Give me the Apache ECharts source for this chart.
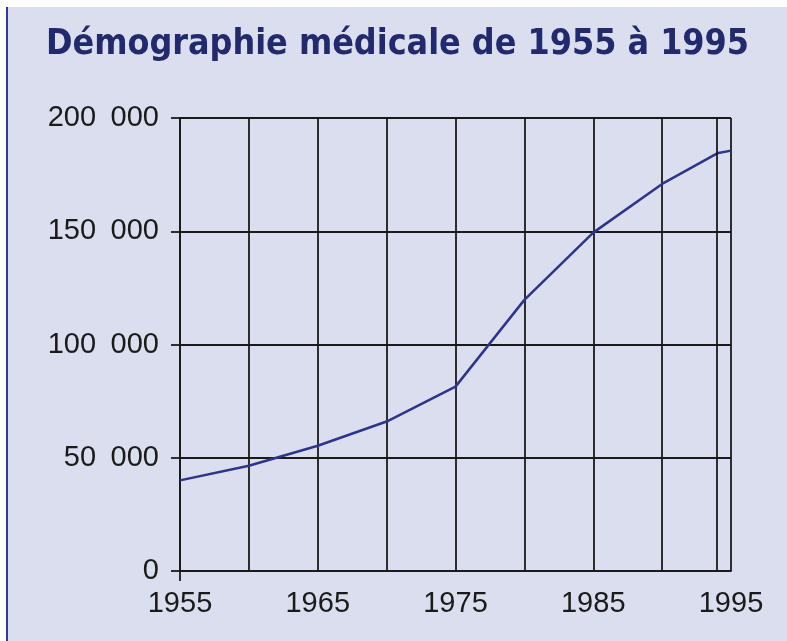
<!DOCTYPE html>
<html>
<head>
<meta charset="utf-8">
<script src="https://cdn.jsdelivr.net/npm/echarts@6/dist/echarts.min.js"></script>
<style>
  html, body { margin: 0; padding: 0; background: #ffffff; }
  #chart { width: 787px; height: 641px; }
</style>
</head>
<body>
<div id="chart"></div>
<script>
// données
var years = [1955, 1960, 1965, 1970, 1975, 1980, 1985, 1990, 1994, 1995];
var medecins = [40000, 46500, 55300, 66000, 81400, 119700, 149400, 170900, 184400, 185600];
var labelYears = [1955, 1965, 1975, 1985, 1995];
var extraGridYears = [1994];
var titleText = 'Démographie médicale de 1955 à 1995';

var dom = document.getElementById('chart');
var myChart = echarts.init(dom);

function fmtThousands(v) {
    // 200000 -> "200 000"
    var s = String(v);
    return s.replace(/\B(?=(\d{3})+(?!\d))/g, '\u2002');
}

var axisColor = '#1a1a1a';

var option = {
    backgroundColor: '#dbdeef',
    animation: false,
    title: {
        text: titleText,
        left: 41,
        top: 22,
        textStyle: {
            fontFamily: '"DejaVu Sans Condensed", "Roboto Condensed", "Arial Narrow", sans-serif',
            fontWeight: 'bold',
            fontSize: 35.5,
            color: '#232a6c'
        }
    },
    // bandes blanches et filet bleu du cadre
    graphic: [
        { type: 'rect', left: 0, top: 0, shape: { width: 787, height: 7 }, style: { fill: '#ffffff' } },
        { type: 'rect', left: 0, top: 0, shape: { width: 6, height: 641 }, style: { fill: '#ffffff' } },
        { type: 'rect', left: 6, top: 7, shape: { width: 2, height: 634 }, style: { fill: '#2f3c8e' } }
    ],
    grid: {
        left: 180,
        right: 56,
        top: 118,
        bottom: 70
    },
    xAxis: [
        {
            type: 'value',
            min: 1955,
            max: 1995,
            interval: 5,
            axisLine: { show: true, lineStyle: { color: axisColor, width: 1.8 } },
            axisTick: { show: false },
            axisLabel: {
                customValues: labelYears,
                margin: 18,
                fontFamily: 'Liberation Sans',
                fontSize: 29,
                color: axisColor,
                formatter: function (v) { return String(v); }
            },
            splitLine: { show: true, lineStyle: { color: axisColor, width: 1.8 } }
        },
        {
            // seul le petit trait sous 1955
            type: 'value',
            min: 1955,
            max: 1995,
            position: 'bottom',
            axisLine: { show: false },
            axisTick: { show: true, customValues: [1955], length: 10, lineStyle: { color: axisColor, width: 1.8 } },
            axisLabel: { show: false },
            splitLine: { show: false }
        }
    ],
    yAxis: {
        type: 'value',
        min: 0,
        max: 200000,
        interval: 50000,
        axisLine: { show: true, lineStyle: { color: axisColor, width: 1.8 } },
        axisTick: { show: true, length: 9, lineStyle: { color: axisColor, width: 1.8 } },
        axisLabel: {
            margin: 21,
            fontFamily: 'Liberation Sans',
            fontSize: 29,
            color: axisColor,
            formatter: fmtThousands
        },
        splitLine: { show: true, lineStyle: { color: axisColor, width: 1.8 } }
    },
    series: [
        {
            type: 'line',
            data: years.map(function (y, i) { return [y, medecins[i]]; }),
            showSymbol: false,
            lineStyle: { color: '#2e3588', width: 2.5 },
            markLine: {
                silent: true,
                symbol: 'none',
                label: { show: false },
                lineStyle: { color: axisColor, width: 1.8, type: 'solid' },
                data: extraGridYears.map(function (y) { return { xAxis: y }; })
            }
        }
    ]
};

myChart.setOption(option);
</script>
</body>
</html>
